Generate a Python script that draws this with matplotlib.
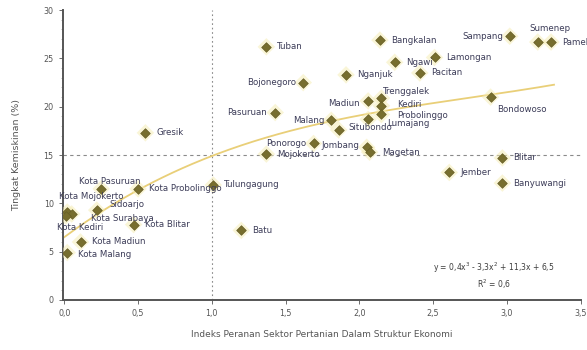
import numpy as np
import matplotlib.pyplot as plt

# Indeks peranan sektor pertanian (x) dan tingkat kemiskinan (y), kab/kota Jawa Timur
daerah = ["Gresik", "Tuban", "Bojonegoro", "Pasuruan", "Ponorogo", "Mojokerto",
          "Jombang", "Magetan", "Madiun", "Trenggalek", "Kediri", "Probolinggo",
          "Lumajang", "Malang", "Situbondo", "Nganjuk", "Bangkalan", "Sampang",
          "Sumenep", "Pamekasan", "Ngawi", "Lamongan", "Pacitan", "Bondowoso",
          "Blitar", "Jember", "Banyuwangi", "Tulungagung", "Batu",
          "Kota Pasuruan", "Kota Probolinggo", "Sidoarjo", "Kota Mojokerto",
          "Kota Surabaya", "Kota Kediri", "Kota Blitar", "Kota Madiun", "Kota Malang"]
indeks = [0.55, 1.37, 1.62, 1.43, 1.69, 1.37,
          2.05, 2.07, 2.06, 2.15, 2.15, 2.15,
          2.06, 1.81, 1.86, 1.91, 2.14, 3.02,
          3.21, 3.30, 2.24, 2.51, 2.41, 2.89,
          2.97, 2.61, 2.97, 1.01, 1.20,
          0.25, 0.50, 0.22, 0.02,
          0.05, 0.01, 0.47, 0.11, 0.02]
miskin = [17.3, 26.2, 22.5, 19.4, 16.2, 15.1,
          15.8, 15.3, 20.6, 20.9, 20.1, 19.2,
          18.7, 18.6, 17.6, 23.3, 26.9, 27.3,
          26.7, 26.7, 24.6, 25.1, 23.5, 21.0,
          14.7, 13.2, 12.1, 11.9, 7.2,
          11.5, 11.5, 9.3, 9.1,
          8.9, 8.7, 7.8, 6.0, 4.9]

# koefisien garis tren polinomial orde 3
koef = [0.4, -3.3, 11.3, 6.5]
r2 = 0.6

xticks = [0, 0.5, 1, 1.5, 2, 2.5, 3, 3.5]
yticks = [0, 5, 10, 15, 20, 25, 30]

# posisi label (offset dalam poin, perataan)
pos_label = {
    "Bojonegoro": (-5, 0, "right"), "Pasuruan": (-6, 0, "right"),
    "Ponorogo": (-5, 0, "right"), "Jombang": (-5, 1, "right"),
    "Madiun": (-6, -2, "right"), "Malang": (-5, 0, "right"),
    "Sampang": (-5, 0, "right"), "Sumenep": (-6, 10, "left"),
    "Trenggalek": (1, 5, "left"), "Kediri": (11, 1, "left"),
    "Probolinggo": (11, -1, "left"), "Lumajang": (14, -3, "left"),
    "Situbondo": (7, 2, "left"), "Bondowoso": (5, -9, "left"),
    "Magetan": (9, 0, "left"),
    "Kota Pasuruan": (-16, 5, "left"), "Kota Mojokerto": (-6, 11, "left"),
    "Sidoarjo": (9, 4, "left"), "Kota Surabaya": (14, -3, "left"),
    "Kota Kediri": (-6, -8, "left"), "Kota Malang": (8, -1, "left"),
}

fig = plt.figure(figsize=(5.87, 3.5), dpi=100)
ax = fig.add_axes([0.107, 0.143, 0.882, 0.828])

ax.axhline(15, color="#8a8a8a", lw=0.8, ls=(0, (3, 3)), zorder=1)
ax.axvline(1, color="#8a8a8a", lw=0.8, ls=(0, (1.5, 2.5)), zorder=1)

xs = np.linspace(0, 3.32, 200)
ax.plot(xs, np.polyval(koef, xs), color="#e9cf78", lw=1.3, zorder=2)

ax.scatter(indeks, miskin, marker="D", s=80, color="#f5ecb0", alpha=0.5,
           edgecolors="none", zorder=3)
ax.scatter(indeks, miskin, marker="D", s=24, color="#776e2e",
           edgecolors="#665e26", linewidths=0.5, zorder=4)

for nama, x, y in zip(daerah, indeks, miskin):
    dx, dy, ha = pos_label.get(nama, (8, 0, "left"))
    ax.annotate(nama, (x, y), xytext=(dx, dy), textcoords="offset points",
                ha=ha, va="center", fontsize=6.2, color="#3c3c58",
                annotation_clip=False, zorder=5)

ax.text(0.833, 0.083, "y = 0,4x$^3$ - 3,3x$^2$ + 11,3x + 6,5\nR$^2$ = 0,6",
        transform=ax.transAxes, ha="center", va="center", fontsize=5.5,
        color="#3c3c3c", linespacing=1.3)

ax.set_xlim(-0.01, 3.5)
ax.set_ylim(0, 30)
ax.set_xticks(xticks)
ax.set_xticklabels([f"{t:.1f}".replace(".", ",") for t in xticks])
ax.set_yticks(yticks)
ax.set_yticks(np.arange(0, 31, 1), minor=True)
ax.tick_params(labelsize=5.8, colors="#555555", length=3, width=0.6)
ax.tick_params(which="minor", length=1.5, width=0.5, colors="#999999")

for s in ["top", "right"]:
    ax.spines[s].set_visible(False)
for s in ["left", "bottom"]:
    ax.spines[s].set_color("#555555")
    ax.spines[s].set_linewidth(1.4)

ax.set_xlabel("Indeks Peranan Sektor Pertanian Dalam Struktur Ekonomi",
              fontsize=6.5, color="#555555", labelpad=9)
ax.set_ylabel("Tingkat Kemiskinan (%)", fontsize=6.8, color="#555555",
              labelpad=16)

fig.savefig("out.png", dpi=100)
